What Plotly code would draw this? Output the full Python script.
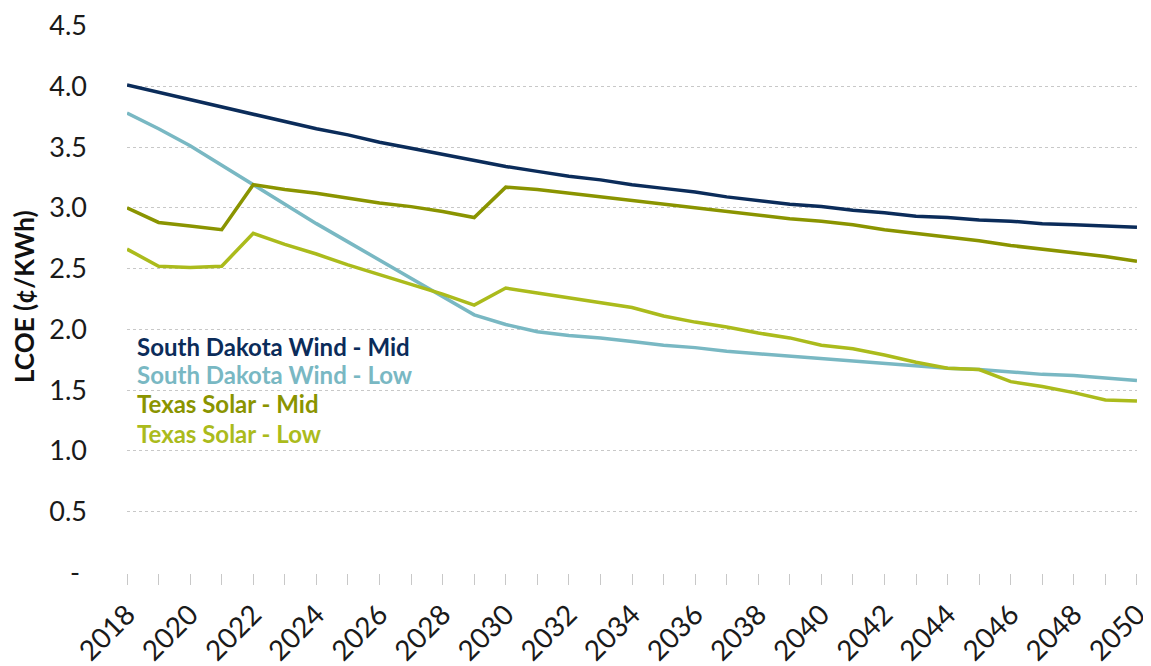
import plotly.graph_objects as go

years = list(range(2018, 2051))

wind_mid = [4.01, 3.95, 3.89, 3.83, 3.77, 3.71, 3.65, 3.60, 3.54, 3.49, 3.44,
            3.39, 3.34, 3.30, 3.26, 3.23, 3.19, 3.16, 3.13, 3.09, 3.06, 3.03,
            3.01, 2.98, 2.96, 2.93, 2.92, 2.90, 2.89, 2.87, 2.86, 2.85, 2.84]
wind_low = [3.78, 3.65, 3.51, 3.35, 3.19, 3.03, 2.87, 2.72, 2.57, 2.42, 2.27,
            2.12, 2.04, 1.98, 1.95, 1.93, 1.90, 1.87, 1.85, 1.82, 1.80, 1.78,
            1.76, 1.74, 1.72, 1.70, 1.68, 1.67, 1.65, 1.63, 1.62, 1.60, 1.58]
solar_mid = [3.00, 2.88, 2.85, 2.82, 3.19, 3.15, 3.12, 3.08, 3.04, 3.01, 2.97,
             2.92, 3.17, 3.15, 3.12, 3.09, 3.06, 3.03, 3.00, 2.97, 2.94, 2.91,
             2.89, 2.86, 2.82, 2.79, 2.76, 2.73, 2.69, 2.66, 2.63, 2.60, 2.56]
solar_low = [2.66, 2.52, 2.51, 2.52, 2.79, 2.70, 2.62, 2.53, 2.45, 2.37, 2.29,
             2.20, 2.34, 2.30, 2.26, 2.22, 2.18, 2.11, 2.06, 2.02, 1.97, 1.93,
             1.87, 1.84, 1.79, 1.73, 1.68, 1.67, 1.57, 1.53, 1.48, 1.42, 1.41]

series_names = ["South Dakota Wind - Mid", "South Dakota Wind - Low",
                "Texas Solar - Mid", "Texas Solar - Low"]
series_values = [wind_mid, wind_low, solar_mid, solar_low]
colors = ["#0b2c5a", "#79b8c3", "#8a9400", "#abbb1c"]

y_tickvals = [0, 0.5, 1.0, 1.5, 2.0, 2.5, 3.0, 3.5, 4.0, 4.5]
y_ticktext = ["-&nbsp;", "0.5", "1.0", "1.5", "2.0", "2.5", "3.0", "3.5", "4.0", "4.5"]
x_tickvals = list(range(2018, 2051, 2))
x_ticktext = [str(v) for v in x_tickvals]

# page offset (body margin) compensation
OFF = 8
FW, FH = 1151 - OFF, 666 - OFF
L, R, T, B = 127 - OFF, 1137 - OFF, 25 - OFF, 573 - OFF
W = R - L
H = B - T

fig = go.Figure()
for name, vals, col in zip(series_names, series_values, colors):
    fig.add_trace(go.Scatter(x=years, y=vals, mode="lines", name=name,
                             line=dict(color=col, width=3.5), showlegend=False))

# legend-like text labels
label_y = [346, 374, 403, 433]
for name, col, py in zip(series_names, colors, label_y):
    fig.add_annotation(xref="paper", yref="paper",
                       x=(135 - OFF - L) / W, y=(B - (py - OFF)) / H,
                       xanchor="left", yanchor="middle", showarrow=False,
                       text="<b>%s</b>" % name,
                       font=dict(family="Lato", size=24, color=col))

# y axis title
fig.add_annotation(xref="paper", yref="paper",
                   x=(24 - OFF - L) / W, y=(B - (297 - OFF)) / H,
                   xanchor="center", yanchor="middle", showarrow=False,
                   textangle=-90, text="<b>LCOE (¢/KWh)</b>",
                   font=dict(family="Lato", size=26, color="#111111"))

fig.update_layout(
    width=FW, height=FH,
    margin=dict(l=L, r=FW - R, t=T, b=FH - B, autoexpand=False),
    paper_bgcolor="white", plot_bgcolor="white",
    font=dict(family="Lato", color="#1a1a1a"),
    xaxis=dict(range=[2017.999, 2050.001], tickvals=x_tickvals, ticktext=x_ticktext,
               tickangle=-45, tickfont=dict(size=28, color="#1a1a1a"),
               automargin=False, ticklabeloverflow="allow", ticklabelstandoff=2,
               showgrid=False, zeroline=False, showline=False,
               ticks="outside", ticklen=11, tickcolor="#c8c8c8", tickwidth=1,
               minor=dict(tickvals=years, ticks="outside", ticklen=11,
                          tickcolor="#c8c8c8", tickwidth=1, showgrid=False)),
    yaxis=dict(range=[-0.004, 4.504], tickvals=y_tickvals, ticktext=y_ticktext,
               tickfont=dict(size=27, color="#1a1a1a"), automargin=False,
               ticklabeloverflow="allow",
               showgrid=True, gridcolor="#c8c8c8", griddash="dot", gridwidth=1,
               zeroline=False, showline=False, ticks="", ticklabelstandoff=39),
)

fig.write_html("out.html")
